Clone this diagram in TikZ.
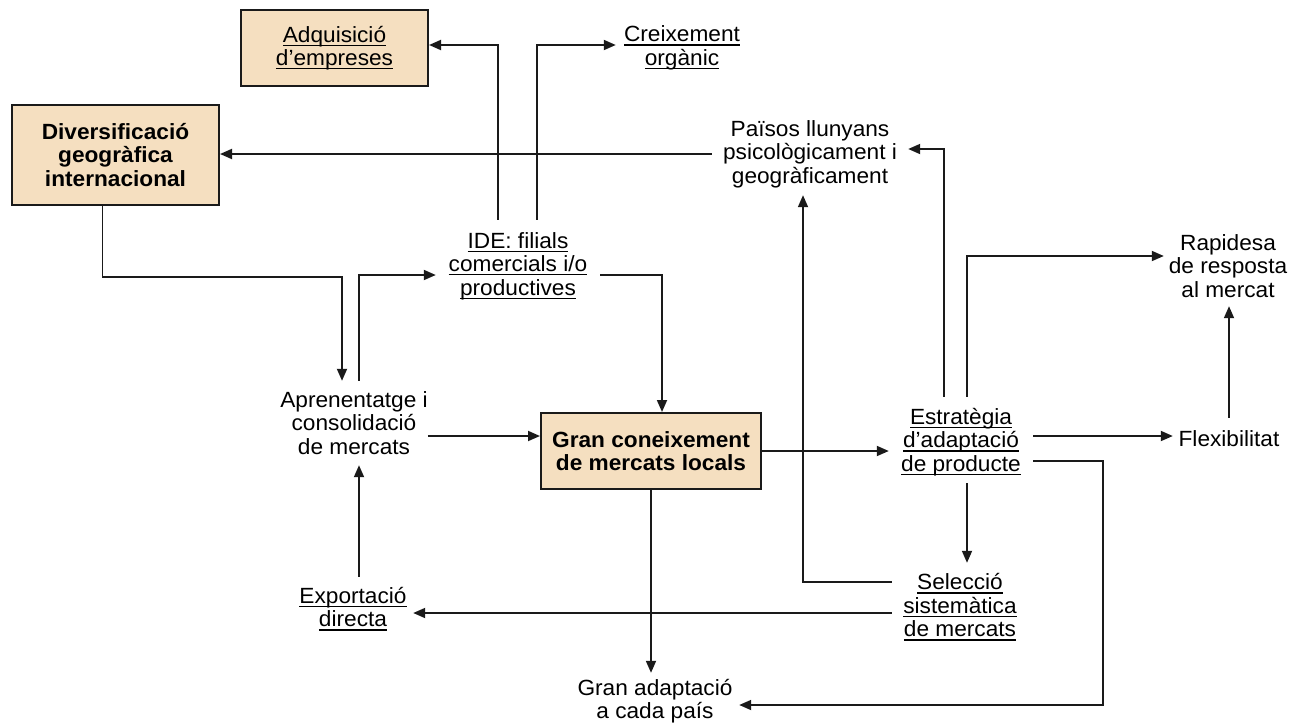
\documentclass[tikz,border=0pt]{standalone}
\usepackage{fontspec}
\setmainfont[FakeStretch=1.03]{Liberation Sans}
\usetikzlibrary{arrows.meta}
\definecolor{boxfill}{HTML}{F5DFC0}
\definecolor{ink}{HTML}{1A1A1A}
% underline each line at a fixed depth below the baseline
\newcommand\ulin[1]{\leavevmode\setbox0\hbox{#1}\rlap{\rule[-3.8pt]{\wd0}{1.3pt}}\box0}

\begin{document}
\begin{tikzpicture}[x=1pt,y=-1pt,
  txt/.style={font=\fontsize{22}{23.5}\selectfont},
  lbl/.style={txt, inner sep=0pt, align=center},
  tanbox/.style={txt, draw=ink, line width=2pt, fill=boxfill, inner sep=0pt, align=center},
  link/.style={line width=1.8pt, draw=ink},
  arr/.style={link, -{Triangle[length=12pt,width=10pt]}},
]
\useasboundingbox (0,0) rectangle (1308,725);

% boxes
\node[tanbox, minimum width=187pt, minimum height=76pt] (adq) at (334.5,48)
  {\ulin{Adquisició}\\\ulin{d’empreses}};
\node[tanbox, font=\fontsize{22}{23.5}\selectfont\bfseries, minimum width=207pt, minimum height=100pt] (div) at (115.5,155)
  {Diversificació\\geogràfica\\internacional};
\node[tanbox, font=\fontsize{22}{23.5}\selectfont\bfseries, minimum width=220pt, minimum height=76pt] (gran) at (651,451)
  {Gran coneixement\\de mercats locals};

% plain labels
\node[lbl, minimum width=132pt] (cre) at (682,48) {\ulin{Creixement}\\\ulin{orgànic}};
\node[lbl, minimum width=196pt, minimum height=82pt] (pai) at (810,154)
  {Països llunyans\\psicològicament i\\geogràficament};
\node[lbl, minimum width=164pt, minimum height=92pt] (ide) at (518,266)
  {\ulin{IDE: filials}\\\ulin{comercials i/o}\\\ulin{productives}};
\node[lbl, minimum width=128pt, minimum height=80pt] (rap) at (1228,266)
  {Rapidesa\\de resposta\\al mercat};
\node[lbl, minimum width=146pt, minimum height=84pt] (apr) at (354,423)
  {Aprenentatge i\\consolidació\\de mercats};
\node[lbl, minimum width=144pt, minimum height=90pt] (est) at (961,442)
  {\ulin{Estratègia}\\\ulin{d’adaptació}\\\ulin{de producte}};
\node[lbl, minimum width=112pt, minimum height=42pt] (flex) at (1229,439) {Flexibilitat};
\node[lbl, minimum width=136pt, minimum height=80pt] (sel) at (960,607)
  {\ulin{Selecció}\\\ulin{sistemàtica}\\\ulin{de mercats}};
\node[lbl, minimum width=120pt, minimum height=64pt] (exp) at (353,609)
  {\ulin{Exportació}\\\ulin{directa}};
\node[lbl, minimum width=168pt, minimum height=56pt] (gad) at (655,701)
  {Gran adaptació\\a cada país};

% connectors
\draw[arr] ([xshift=-20pt]ide.north) |- ([yshift=3pt]adq.east);
\draw[arr] ([xshift=19pt]ide.north) |- ([yshift=3pt]cre.west);
\draw[arr] (pai.west) -- (pai.west -| div.east);
\draw[arr] ([xshift=-17pt]est.north) |- ([yshift=5pt]pai.east);
\draw[arr] ([xshift=6pt]est.north) |- ([yshift=10pt]rap.west);
\draw[arr] (flex.north) -- (flex.north |- rap.south);
\draw[arr] ([yshift=6pt]est.east) -- ([yshift=6pt]est.east -| flex.west);
\draw[arr] ([yshift=-19pt]est.east) -- ++(70,0) |- ([yshift=-4pt]gad.east);
\draw[arr] ([xshift=6pt,yshift=4pt]est.south) -- ([xshift=6pt,yshift=4pt]est.south |- sel.north);
\draw[arr] ([yshift=25pt]sel.west) -| ([xshift=-7pt]pai.south);
\draw[arr] ([yshift=-6pt]sel.west) -- ([yshift=-6pt]sel.west -| exp.east);
\draw[arr] (gran.east) -- (gran.east -| est.west);
\draw[arr] (gran.south) -- (gran.south |- gad.north);
\draw[arr] ([yshift=-9pt]ide.east) -| ([xshift=11pt]gran.north);
\draw[arr] ([xshift=5pt]apr.north) |- ([yshift=-9pt]ide.west);
\draw[arr] ([xshift=-13pt]div.south) -- ++(0,71) -| ([xshift=-12pt]apr.north);
\draw[arr] ([yshift=-13pt]apr.east) -- ([yshift=-13pt]apr.east -| gran.west);
\draw[arr] ([xshift=6pt]exp.north) -- ([xshift=6pt]exp.north |- apr.south);
\end{tikzpicture}
\end{document}
